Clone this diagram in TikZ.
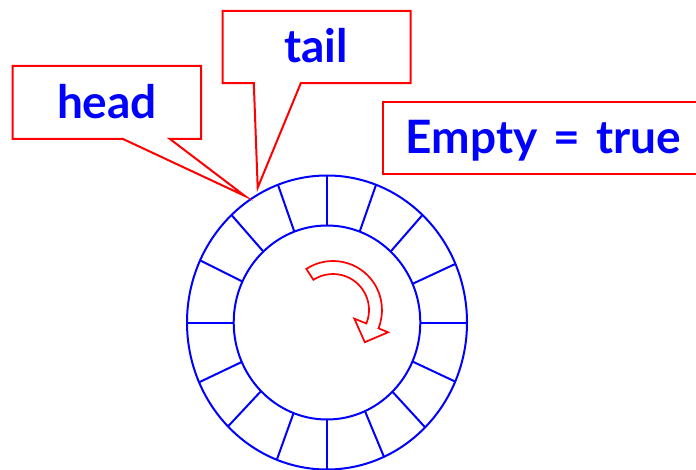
\documentclass[tikz,border=0pt]{standalone}
\usepackage{fontspec}
\newfontfamily\lblfont{Lato}
\usetikzlibrary{calc}
\definecolor{rblue}{RGB}{0,0,255}
\definecolor{rred}{RGB}{255,0,0}
\tikzset{
  lbl/.style={text=rblue, font=\lblfont\bfseries\fontsize{46}{50}\selectfont, inner sep=0pt, anchor=base},
  boxnode/.style={draw=none, inner sep=0pt},
  calloutline/.style={draw=rred, line width=2pt, fill=white, line join=miter},
  ringline/.style={draw=rblue, line width=2pt},
  turnarrow/.style={draw=rred, line width=1.7pt, fill=white, line join=miter},
}
\begin{document}
\begin{tikzpicture}[x=1pt, y=-1pt]
\clip (0,0) rectangle (696,470);
\fill[white] (0,0) rectangle (696,470);

% ring
\coordinate (ringc) at (327,322.5);
\draw[ringline] (ringc) ellipse [x radius=140, y radius=147];
\draw[ringline] (ringc) ellipse [x radius=93.3, y radius=97];
\foreach \a in {0,23.5,47,69.5,90,110.5,133,155,180,204,225,249,270,294,314.5,336.3}
  \draw[ringline] ($(ringc)+(-\a:93.3 and 97)$) -- ($(ringc)+(-\a:140 and 147)$);

% rotation arrow
\coordinate (turnc) at (333,310);
\draw[turnarrow] ($(turnc)+(-123:49)$) arc[start angle=-123, end angle=22, radius=49]
  -- ($(turnc)+(22:59.5)$) -- ($(turnc)+(31.8,32.2)$) -- ($(turnc)+(22:23)$)
  -- ($(turnc)+(22:36)$) arc[start angle=22, end angle=-123, radius=36] -- cycle;

% head callout
\node[boxnode, minimum width=188.3pt, minimum height=72.7pt] (headbox) at (106.85,102.35) {};
\coordinate (headtip) at (245,196);
\draw[calloutline] (headbox.south west) -- (headbox.north west) -- (headbox.north east)
  -- (headbox.south east) -- ($(headbox.south west)+(157.3,0)$) -- (headtip)
  -- ($(headbox.south west)+(110.3,0)$) -- cycle;
\node[lbl] (headtxt) at (107,118.3) {head};

% tail callout
\node[boxnode, minimum width=187.6pt, minimum height=72pt] (tailbox) at (316.5,47) {};
\coordinate (tailtip) at (257.7,187.7);
\draw[calloutline] (tailbox.south west) -- (tailbox.north west) -- (tailbox.north east)
  -- (tailbox.south east) -- ($(tailbox.south west)+(78.3,0)$) -- (tailtip)
  -- ($(tailbox.south west)+(31.3,0)$) -- cycle;
\node[lbl] (tailtxt) at (315.8,62.7) {tail};

% empty flag
\node[boxnode, draw=rred, line width=2pt, minimum width=320pt, minimum height=72pt] (emptybox) at (542.7,138.3) {};
\node[lbl] (emptytxt) at (543.3,153.3) {Empty\hspace{16pt}=\hspace{16pt}true};
\end{tikzpicture}
\end{document}
